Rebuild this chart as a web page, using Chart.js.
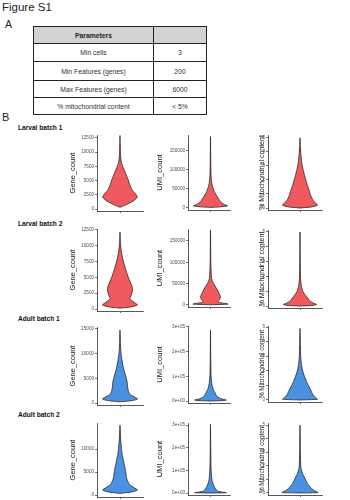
<!DOCTYPE html>
<html><head><meta charset="utf-8">
<script src="https://cdn.jsdelivr.net/npm/chart.js@4"></script>
<style>
html,body{margin:0;padding:0;background:#fff;}
body{width:350px;height:500px;position:relative;overflow:hidden;font-family:"Liberation Sans",Arial,sans-serif;color:#222;}
.t{position:absolute;white-space:nowrap;line-height:1;}
canvas{position:absolute;}
#tbl{position:absolute;left:33px;top:26px;width:173px;border-collapse:collapse;table-layout:fixed;font-size:6.8px;color:#333;}
#tbl td{border:1px solid #222;text-align:center;padding:0;}
#tbl tr.h td{background:#d2d2d2;font-weight:bold;color:#222;}
</style></head><body>
<div class="t" style="left:2px;top:2px;font-size:11.5px;">Figure S1</div>
<div class="t" style="left:5px;top:19px;font-size:10.5px;">A</div>
<div class="t" style="left:2px;top:112px;font-size:11px;">B</div>
<table id="tbl"><colgroup><col style="width:120px"><col style="width:53px"></colgroup><tbody id="tb"></tbody></table>
<div id="labels"></div>
<script>
// ---------- data ----------
const batches = ['Larval batch 1','Larval batch 2','Adult batch 1','Adult batch 2'];
const metrics = ['Gene_count','UMI_count','% Mitochondrial content'];
const tableHeader = ['Parameters',''];
const tableParams = ['Min cells','Min Features (genes)','Max Features (genes)','% mitochondrial content'];
const tableValues = ['3','200','6000','< 5%'];

const geneTicksLarval = [0,2500,5000,7500,10000,12500];
const geneTicksAdult1 = [0,5000,10000,15000];
const geneTicksAdult2 = [0,5000,10000];
const umiTicksLarval = [0,50000,100000,150000];
const umiTicksAdult = [0,100000,200000,300000];
const umiLabelsAdult = ['0e+00','1e+05','2e+05','3e+05'];
const mitoTicks = [0,1,2,3,4,5];

// axis ranges [min,max] per batch, per metric
const yRanges = [
  [[-350,13000],[-5300,192000],[-0.14,5.2]],
  [[-300,12600],[-4700,178000],[-0.135,5.13]],
  [[-400,15400],[-8000,304000],[-0.14,5.07]],
  [[-430,15650],[-8800,309000],[-0.15,5.15]]
];

// violin outlines: value levels and relative half-widths (density)
const l1GeneLevels = [300,600,1000,1500,2100,2800,3400,4200,5100,5800,6600,7400,8000,8600,9500,10500,11500,12900];
const l1GeneWidths = [0,0.25,0.55,0.85,1.05,0.9,0.72,0.6,0.5,0.4,0.3,0.18,0.1,0.06,0.03,0.02,0.012,0];
const l1UmiLevels = [1500,3000,5500,9000,16500,23000,30000,37000,43000,50000,56000,65000,74000,90000,110000,140000,188000];
const l1UmiWidths = [0,0.6,1.03,0.85,0.6,0.5,0.4,0.31,0.23,0.17,0.12,0.08,0.05,0.03,0.02,0.012,0];
const l1MitoLevels = [0,0.08,0.2,0.35,0.56,0.9,1.27,1.6,1.97,2.3,2.68,3.0,3.38,3.87,4.4,5.0];
const l1MitoWidths = [0,0.7,1.06,0.95,0.78,0.65,0.55,0.45,0.36,0.28,0.2,0.14,0.09,0.05,0.02,0];

const l2GeneLevels = [150,350,650,1000,1580,2200,3000,3600,4600,5400,6200,7000,7750,8860,10000,11000,12100];
const l2GeneWidths = [0,0.7,1.06,0.9,0.6,0.68,0.76,0.72,0.56,0.45,0.35,0.26,0.18,0.09,0.04,0.02,0];
const l2UmiLevels = [500,2000,3500,5500,8000,13000,19500,27000,35000,41000,47000,54700,62000,75000,100000,140000,176000];
const l2UmiWidths = [0,1.06,0.95,0.55,0.45,0.55,0.6,0.52,0.42,0.33,0.24,0.12,0.07,0.04,0.02,0.01,0];
const l2MitoLevels = [0,0.04,0.1,0.18,0.29,0.45,0.63,0.8,0.97,1.3,1.76,2.5,3.5,5.0];
const l2MitoWidths = [0,0.8,1.0,0.85,0.65,0.52,0.4,0.28,0.18,0.09,0.04,0.02,0.012,0];

const a1GeneLevels = [250,500,800,1200,1620,2300,3040,3700,4330,5000,5680,7100,8700,10100,12000,14800];
const a1GeneWidths = [0,0.75,1.06,0.9,0.65,0.52,0.47,0.45,0.43,0.38,0.33,0.21,0.12,0.06,0.025,0];
const a1UmiLevels = [0,2000,4000,8000,17500,27000,37700,47000,58000,70000,85000,110000,150000,200000,288000];
const a1UmiWidths = [0,0.8,0.96,0.7,0.4,0.32,0.24,0.17,0.12,0.08,0.055,0.03,0.02,0.01,0];
const a1MitoLevels = [0,0.05,0.15,0.34,0.55,0.8,1.0,1.25,1.5,1.71,2.05,2.5,3.0,3.8,4.9];
const a1MitoWidths = [0,1.06,0.95,0.8,0.7,0.6,0.5,0.4,0.31,0.24,0.15,0.08,0.04,0.02,0];

const a2GeneLevels = [350,700,1090,1600,2170,2900,3620,4300,5070,6000,6880,8000,9060,11240,13000,15200];
const a2GeneWidths = [0,0.75,1.06,0.85,0.6,0.48,0.4,0.37,0.35,0.3,0.24,0.18,0.12,0.06,0.03,0];
const a2UmiLevels = [0,1300,4000,8000,13200,22000,35000,46000,57000,70000,88000,120000,170000,230000,303000];
const a2UmiWidths = [0,0.96,0.7,0.45,0.35,0.27,0.18,0.13,0.09,0.07,0.05,0.03,0.02,0.01,0];
const a2MitoLevels = [0,0.03,0.1,0.22,0.4,0.59,0.8,1.08,1.3,1.45,1.82,2.4,3.2,4.2,5.0];
const a2MitoWidths = [0,1.1,0.98,0.8,0.65,0.5,0.4,0.3,0.2,0.15,0.06,0.03,0.02,0.01,0];

const violins = [
  [[l1GeneLevels,l1GeneWidths],[l1UmiLevels,l1UmiWidths],[l1MitoLevels,l1MitoWidths]],
  [[l2GeneLevels,l2GeneWidths],[l2UmiLevels,l2UmiWidths],[l2MitoLevels,l2MitoWidths]],
  [[a1GeneLevels,a1GeneWidths],[a1UmiLevels,a1UmiWidths],[a1MitoLevels,a1MitoWidths]],
  [[a2GeneLevels,a2GeneWidths],[a2UmiLevels,a2UmiWidths],[a2MitoLevels,a2MitoWidths]]
];
const tickSets = [
  [[geneTicksLarval,null],[umiTicksLarval,null],[mitoTicks,null]],
  [[geneTicksLarval,null],[umiTicksLarval,null],[mitoTicks,null]],
  [[geneTicksAdult1,null],[umiTicksAdult,umiLabelsAdult],[mitoTicks,null]],
  [[geneTicksAdult2,null],[umiTicksAdult,umiLabelsAdult],[mitoTicks,null]]
];

// ---------- layout / style ----------
const batchColors = ['#F05A5E','#F05A5E','#4B91E2','#4B91E2'];
const labelTops = [125,221,316,412];
const colLayout = [
  {left:97, right:143, titleC:72, ctr:120, tsize:[7.5,7.5,7.5,7.5]},
  {left:188, right:230, titleC:159.5, ctr:210.5, tsize:[7.5,7.5,7.5,7.5]},
  {left:268, right:322, titleC:262, ctr:300, tsize:[7,7,6.4,6.4]}
];
const rowLayout = [
  [[135,211],[135,210],[135,210]],
  [[229,311],[229,307],[230,308]],
  [[327,405],[326,403],[326,402]],
  [[423,497],[423,495],[423,495]]
];
const UNIT = 16.5, PADTOP = 4, XAXISH = 4;

Chart.defaults.font.family = '"Liberation Sans", Arial, sans-serif';

// table
const tb = document.getElementById('tb');
const rowH = [17,18,19,17,17];
function addRow(cells, cls, h){
  const tr = document.createElement('tr'); if(cls) tr.className = cls;
  tr.style.height = h+'px';
  cells.forEach(c=>{const td=document.createElement('td'); td.textContent=c; tr.appendChild(td);});
  tb.appendChild(tr);
}
addRow(tableHeader,'h',rowH[0]);
tableParams.forEach((p,i)=>addRow([p,tableValues[i]],'',rowH[i+1]));

// batch labels
const lab = document.getElementById('labels');
batches.forEach((b,i)=>{
  const d=document.createElement('div'); d.className='t';
  d.style.cssText='left:18px;top:'+labelTops[i]+'px;font-size:6.6px;font-weight:bold;color:#111;';
  d.textContent=b; lab.appendChild(d);
});

function buildPoints(levels, widths){
  const pts=[];
  for(let i=0;i<levels.length;i++) pts.push({x:widths[i], y:levels[i]});
  for(let i=levels.length-2;i>=0;i--) pts.push({x:-widths[i], y:levels[i]});
  return pts;
}

batches.forEach((b,r)=>{
  metrics.forEach((m,c)=>{
    const col = colLayout[c];
    const [top,bottom] = rowLayout[r][c];
    const tsize = col.tsize[r];
    const lh = tsize*1.2;
    const cLeft = Math.round(col.titleC - lh/2);
    const cTop = top - PADTOP;
    const W = col.right - cLeft + 2;
    const H = bottom - top + PADTOP + XAXISH;
    const cv = document.createElement('canvas');
    cv.width = W; cv.height = H;
    cv.style.left = cLeft+'px'; cv.style.top = cTop+'px';
    cv.style.width = W+'px'; cv.style.height = H+'px';
    document.body.appendChild(cv);
    const [tv, tl] = tickSets[r][c];
    const [lv, wd] = violins[r][c];
    const [ymin, ymax] = yRanges[r][c];
    const yW = col.left - cLeft;
    new Chart(cv, {
      type:'line',
      data:{datasets:[{
        data: buildPoints(lv, wd),
        fill:'shape',
        backgroundColor: batchColors[r],
        borderColor:'#2a2222',
        borderWidth:0.8,
        pointRadius:0,
        tension:0.2
      }]},
      options:{
        responsive:false, animation:false, devicePixelRatio:1,
        layout:{padding:{top:PADTOP,right:2,bottom:0,left:0}},
        plugins:{legend:{display:false}, tooltip:{enabled:false}},
        scales:{
          x:{type:'linear', min:(col.left-col.ctr)/UNIT, max:(col.right-col.ctr)/UNIT,
             afterBuildTicks:s=>{s.ticks=[{value:0}];},
             afterFit:s=>{s.height=XAXISH;},
             ticks:{display:false},
             grid:{drawOnChartArea:false, tickLength:2, color:'#333', lineWidth:0.7},
             border:{color:'#111', width:0.7}},
          y:{type:'linear', min:ymin, max:ymax,
             afterBuildTicks:s=>{s.ticks=tv.map(v=>({value:v}));},
             afterFit:s=>{s.width=yW;},
             ticks:{autoSkip:false, padding:1, color:'#4d4d4d', font:{size:4.6},
                    callback:(v,i)=> tl ? tl[i] : String(tv[i])},
             grid:{drawOnChartArea:false, tickLength:2, color:'#333', lineWidth:0.7},
             border:{color:'#111', width:0.7},
             title:{display:true, text:m, color:'#111', padding:0, font:{size:tsize}}}
        }
      }
    });
  });
});
</script>
</body></html>
